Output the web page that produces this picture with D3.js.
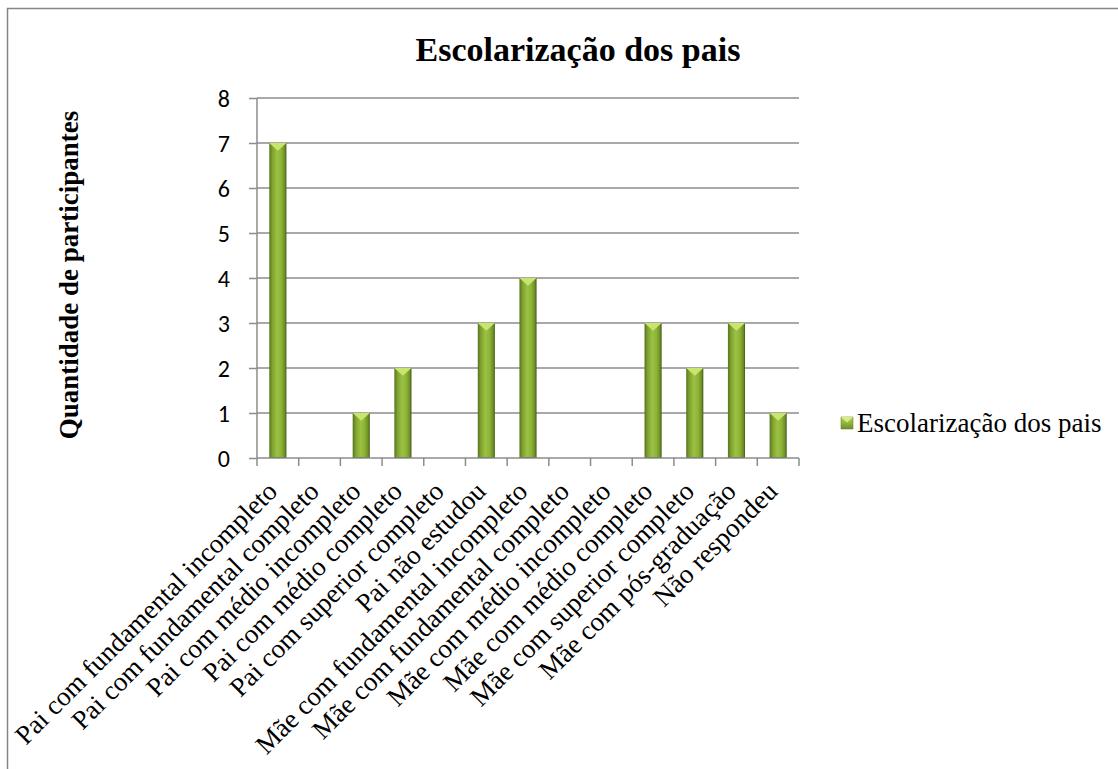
<!DOCTYPE html>
<html><head><meta charset="utf-8">
<script src="https://cdn.jsdelivr.net/npm/d3@7"></script>
<style>body{margin:0;background:#fff}svg{display:block}</style>
</head><body>
<script>
const categories = ["Pai com fundamental incompleto","Pai com fundamental completo","Pai com médio incompleto","Pai com médio completo","Pai com superior completo","Pai não estudou","Mãe com fundamental incompleto","Mãe com fundamental completo","Mãe com médio incompleto","Mãe com médio completo","Mãe com superior completo","Mãe com pós-graduação","Não respondeu"];
const values = [7,0,1,2,0,3,4,0,0,3,2,3,1];
const yTicks = [0,1,2,3,4,5,6,7,8];
const seriesName = "Escolarização dos pais";
const title = "Escolarização dos pais";
const yTitle = "Quantidade de participantes";

const W=1118,H=769;
const serif="'Liberation Serif','Times New Roman',serif";
const svg=d3.select("body").append("svg").attr("width",W).attr("height",H);
const defs=svg.append("defs");
const g1=defs.append("linearGradient").attr("id","barg").attr("x1","0").attr("x2","1").attr("y1","0").attr("y2","0");
[["0%","#56731c"],["18%","#7ea22f"],["45%","#9cc143"],["70%","#8db337"],["90%","#6d8f25"],["100%","#3f5612"]].forEach(s=>g1.append("stop").attr("offset",s[0]).attr("stop-color",s[1]));
const g2=defs.append("linearGradient").attr("id","legg").attr("x1","0").attr("x2","0").attr("y1","0").attr("y2","1");
[["0%","#b5d65a"],["100%","#6f9126"]].forEach(s=>g2.append("stop").attr("offset",s[0]).attr("stop-color",s[1]));

// outer frame
svg.append("rect").attr("x",7.5).attr("y",8.5).attr("width",W+20).attr("height",H+20).attr("fill","none").attr("stroke","#868686").attr("stroke-width",1.5);

const x=d3.scaleBand().domain(categories).range([257,799]).paddingInner(0.59).paddingOuter(0.295);
const y=d3.scaleLinear().domain([0,8]).range([458,98]);

// gridlines
svg.append("g").selectAll("line").data(yTicks.filter(d=>d>0)).join("line")
 .attr("x1",257).attr("x2",799).attr("y1",d=>y(d)).attr("y2",d=>y(d))
 .attr("stroke","#8c8c8c").attr("stroke-width",1.5);

// y axis
const ya=svg.append("g").attr("transform","translate(257,0)").call(d3.axisLeft(y).tickValues(yTicks).tickSize(8).tickPadding(19).tickFormat(d3.format("d")));
ya.selectAll("line,path").attr("stroke","#8c8c8c").attr("stroke-width",1.5);
ya.select("path").attr("d","M0,"+y(8)+"V"+y(0));
ya.selectAll("text").attr("font-family","Carlito, Lato, 'Open Sans', sans-serif").attr("font-size",24).attr("fill","#000").attr("dy","0.35em");

// x axis ticks at band boundaries
const bounds=d3.range(categories.length+1).map(i=>257+i*(542/categories.length));
svg.append("g").selectAll("line").data(bounds).join("line")
 .attr("x1",d=>d).attr("x2",d=>d).attr("y1",458).attr("y2",466)
 .attr("stroke","#8c8c8c").attr("stroke-width",1.5);

// bars
const bars=svg.append("g").selectAll("g").data(values.map((v,i)=>({v,c:categories[i]}))).join("g");
bars.filter(d=>d.v>0).append("rect").attr("x",d=>x(d.c)).attr("width",x.bandwidth())
 .attr("y",d=>y(d.v)).attr("height",d=>y(0)-y(d.v)).attr("fill","url(#barg)");
bars.filter(d=>d.v>0).append("path").attr("d",d=>{const x0=x(d.c),bw=x.bandwidth(),t=y(d.v);return `M${x0},${t}L${x0+bw},${t}L${x0+bw/2},${t+bw*0.45}Z`;})
 .attr("fill","#c9e56e");
bars.filter(d=>d.v>0).append("line").attr("x1",d=>x(d.c)).attr("x2",d=>x(d.c)+x.bandwidth()).attr("y1",y(0)-0.5).attr("y2",y(0)-0.5).attr("stroke","#4a6515").attr("stroke-width",1);

// baseline axis
svg.append("line").attr("x1",257).attr("x2",799).attr("y1",458).attr("y2",458).attr("stroke","#8c8c8c").attr("stroke-width",1.5);

// x labels
svg.append("g").selectAll("text").data(categories).join("text")
 .attr("transform",d=>`translate(${x(d)+x.bandwidth()/2+1},${493}) rotate(-45)`)
 .attr("text-anchor","end").attr("font-family",serif).attr("font-size",27).attr("fill","#000")
 .text(d=>d);

// title
svg.append("text").attr("x",578).attr("y",61).attr("text-anchor","middle").attr("font-family",serif).attr("font-weight","bold").attr("font-size",34).text(title);

// y title
svg.append("text").attr("transform","translate(78,275) rotate(-90)").attr("text-anchor","middle").attr("font-family",serif).attr("font-weight","bold").attr("font-size",27).text(yTitle);

// legend
svg.append("rect").attr("x",841).attr("y",417).attr("width",12).attr("height",12).attr("fill","url(#legg)").attr("stroke","#5a7a1e").attr("stroke-width",0.5);
svg.append("path").attr("d","M841,417L853,417L847,422.5Z").attr("fill","#d4ee80");
svg.append("text").attr("x",857).attr("y",432).attr("font-family",serif).attr("font-size",27).text(seriesName);
</script>
</body></html>
